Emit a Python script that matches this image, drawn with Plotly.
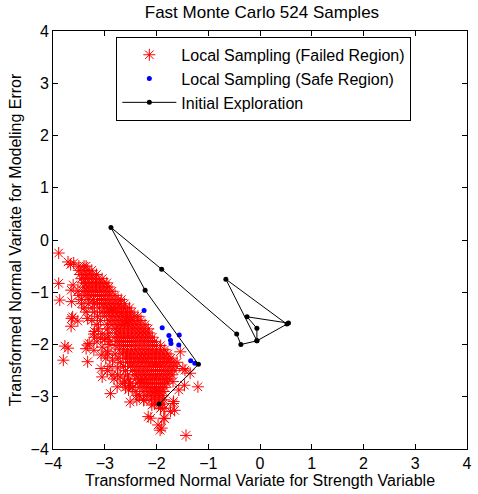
import plotly.graph_objects as go

# ---- Data ----
# Local sampling, failed region (red asterisks): sparse / outer samples
failed_sparse = [
    (-3.89, -0.25), (-3.71, -0.42), (-3.60, -0.44), (-3.66, -0.47), (-3.89, -0.83),
    (-3.61, -0.86), (-3.65, -0.96), (-3.87, -1.15), (-3.64, -1.18), (-3.62, -1.47),
    (-3.64, -1.50), (-3.52, -1.55), (-3.33, -1.50), (-3.15, -1.62), (-3.65, -1.65),
    (-3.20, -1.75), (-3.21, -1.80), (-3.05, -1.80), (-3.20, -1.86), (-3.08, -1.88),
    (-3.30, -1.98), (-3.15, -1.95), (-3.00, -1.90), (-2.92, -2.00), (-3.05, -2.05),
    (-3.33, -2.01), (-3.71, -2.07), (-2.94, -2.14), (-3.21, -2.11), (-3.36, -2.08),
    (-3.77, -2.03), (-3.07, -2.20), (-1.54, -2.14), (-3.80, -2.30), (-3.33, -2.33),
    (-2.85, -2.30), (-2.75, -2.45), (-3.07, -2.46), (-1.49, -2.46), (-1.45, -2.49),
    (-1.35, -2.55), (-2.86, -2.58), (-3.05, -2.62), (-2.70, -2.62), (-2.62, -2.70),
    (-1.68, -2.71), (-2.76, -2.81), (-2.52, -2.78), (-1.46, -2.78), (-1.20, -2.81),
    (-2.89, -2.94), (-2.54, -2.87), (-1.57, -2.87), (-2.38, -2.97), (-2.25, -3.07),
    (-2.51, -3.10), (-1.67, -3.09), (-1.68, -3.13), (-2.09, -3.16), (-1.73, -3.28),
    (-1.65, -3.26), (-1.92, -3.22), (-2.16, -3.38), (-2.11, -3.41), (-1.86, -3.41),
    (-1.84, -3.42), (-1.97, -3.54), (-1.93, -3.64), (-1.90, -3.60), (-1.43, -3.74),
    # widening of the wedge on its lower-left side
    (-3.52, -0.98), (-3.50, -1.06), (-3.45, -1.14), (-3.45, -1.22), (-3.32, -1.22),
    (-3.40, -1.30), (-3.24, -1.30), (-3.36, -1.38), (-3.20, -1.38), (-3.14, -1.46),
    (-3.25, -1.54), (-3.08, -1.54), (-2.95, -1.62), (-3.12, -1.70), (-2.95, -1.70),
    (-2.92, -1.78), (-2.94, -1.86), (-2.90, -1.94), (-2.80, -2.18), (-2.95, -2.18),
    (-2.74, -2.26), (-2.98, -2.26), (-2.70, -2.34), (-2.64, -2.42), (-2.90, -2.42),
    (-2.60, -2.50), (-2.95, -2.50), (-2.56, -2.58), (-2.75, -2.58), (-2.54, -2.66),
    (-2.82, -2.66), (-2.50, -2.74), (-2.65, -2.74), (-2.46, -2.82), (-2.60, -2.82),
    (-2.40, -2.90), (-2.33, -2.98), (-2.24, -3.06), (-2.38, -3.06),
]
# dense band: one row per y level, x positions of the stars in that row
failed_rows = [
    (-0.50, [-3.50, -3.40, -3.36]),
    (-0.58, [-3.50, -3.42, -3.34, -3.25]),
    (-0.66, [-3.48, -3.40, -3.32, -3.24, -3.16]),
    (-0.74, [-3.45, -3.37, -3.29, -3.21, -3.13, -3.05]),
    (-0.82, [-3.42, -3.34, -3.26, -3.18, -3.10, -3.02, -2.96]),
    (-0.90, [-3.40, -3.32, -3.24, -3.16, -3.08, -3.00, -2.92]),
    (-0.98, [-3.42, -3.34, -3.26, -3.18, -3.10, -3.02, -2.94, -2.86]),
    (-1.06, [-3.38, -3.30, -3.22, -3.14, -3.06, -2.98, -2.90, -2.80]),
    (-1.14, [-3.32, -3.22, -3.14, -3.06, -2.98, -2.90, -2.82, -2.74, -2.68]),
    (-1.22, [-3.20, -3.10, -3.02, -2.94, -2.86, -2.78, -2.70, -2.62]),
    (-1.30, [-3.10, -3.00, -2.92, -2.84, -2.76, -2.68, -2.60, -2.52]),
    (-1.38, [-3.05, -2.96, -2.88, -2.80, -2.72, -2.64, -2.56, -2.48]),
    (-1.46, [-3.00, -2.90, -2.82, -2.74, -2.66, -2.58, -2.50, -2.42, -2.36]),
    (-1.54, [-2.92, -2.84, -2.76, -2.68, -2.60, -2.52, -2.44, -2.36, -2.30]),
    (-1.62, [-2.86, -2.78, -2.70, -2.62, -2.54, -2.46, -2.38, -2.30, -2.22]),
    (-1.70, [-2.80, -2.72, -2.64, -2.56, -2.48, -2.40, -2.32, -2.24, -2.16]),
    (-1.78, [-2.78, -2.70, -2.62, -2.54, -2.46, -2.38, -2.30, -2.22, -2.14]),
    (-1.86, [-2.80, -2.72, -2.64, -2.56, -2.48, -2.40, -2.32, -2.24, -2.16, -2.08]),
    (-1.94, [-2.76, -2.68, -2.60, -2.52, -2.44, -2.36, -2.28, -2.20, -2.12, -2.04]),
    (-2.02, [-2.80, -2.72, -2.64, -2.56, -2.48, -2.40, -2.32, -2.24, -2.16, -2.08, -2.00, -1.92]),
    (-2.10, [-2.72, -2.64, -2.56, -2.48, -2.40, -2.32, -2.24, -2.16, -2.08, -2.00, -1.92, -1.84]),
    (-2.18, [-2.66, -2.58, -2.50, -2.42, -2.34, -2.26, -2.18, -2.10, -2.02, -1.94, -1.86, -1.78]),
    (-2.26, [-2.60, -2.52, -2.44, -2.36, -2.28, -2.20, -2.12, -2.04, -1.96, -1.88, -1.80, -1.72]),
    (-2.34, [-2.56, -2.48, -2.40, -2.32, -2.24, -2.16, -2.08, -2.00, -1.92, -1.84, -1.76, -1.68, -1.60]),
    (-2.42, [-2.50, -2.42, -2.34, -2.26, -2.18, -2.10, -2.02, -1.94, -1.86, -1.78, -1.70, -1.62]),
    (-2.50, [-2.46, -2.38, -2.30, -2.22, -2.14, -2.06, -1.98, -1.90, -1.82, -1.74, -1.66]),
    (-2.58, [-2.42, -2.34, -2.26, -2.18, -2.10, -2.02, -1.94, -1.86, -1.78, -1.70]),
    (-2.66, [-2.40, -2.32, -2.24, -2.16, -2.08, -2.00, -1.92, -1.84, -1.76]),
    (-2.74, [-2.36, -2.28, -2.20, -2.12, -2.04, -1.96, -1.88, -1.80]),
    (-2.82, [-2.32, -2.24, -2.16, -2.08, -2.00, -1.92, -1.84]),
    (-2.90, [-2.26, -2.18, -2.10, -2.02, -1.94, -1.86]),
    (-2.98, [-2.20, -2.12, -2.04, -1.96, -1.88]),
    (-3.06, [-2.10, -2.02, -1.94, -1.86]),
    (-3.14, [-2.04, -1.96, -1.88]),
    (-3.22, [-1.92, -1.84]),
]
failed_x = [p[0] for p in failed_sparse] + [x for y, xs in failed_rows for x in xs]
failed_y = [p[1] for p in failed_sparse] + [y for y, xs in failed_rows for x in xs]

# Local sampling, safe region (blue dots)
safe_x = [-2.24, -1.89, -1.76, -1.73, -1.72, -1.56, -1.57, -1.34, -1.26]
safe_y = [-1.35, -1.68, -1.83, -1.92, -1.98, -1.82, -2.01, -2.31, -2.36]

# Initial exploration path (black line with dots)
explore_x = [-1.95, -1.19, -2.22, -2.88, -1.90, -0.45, -0.37, -0.06, 0.52, -0.66, -0.06, -0.06, -0.25, 0.55]
explore_y = [-3.14, -2.38, -0.96, 0.24, -0.56, -1.80, -2.00, -1.93, -1.61, -0.75, -1.93, -1.69, -1.47, -1.59]

title_text = "Fast Monte Carlo 524 Samples"
x_title = "Transformed Normal Variate for Strength Variable"
y_title = "Transformed Normal Variate for Modeling Error"
tick_vals = [-4, -3, -2, -1, 0, 1, 2, 3, 4]

FONT = "Arial, Liberation Sans, sans-serif"
FS = 16

fig = go.Figure()
fig.add_trace(go.Scatter(
    x=failed_x, y=failed_y, mode="markers",
    name="Local Sampling (Failed Region)",
    marker=dict(symbol="asterisk-open", size=10, color="red",
                line=dict(color="red", width=1)),
))
fig.add_trace(go.Scatter(
    x=safe_x, y=safe_y, mode="markers",
    name="Local Sampling (Safe Region)",
    marker=dict(symbol="circle", size=5, color="blue"),
))
fig.add_trace(go.Scatter(
    x=explore_x, y=explore_y, mode="lines+markers",
    name="Initial Exploration",
    line=dict(color="black", width=1),
    marker=dict(symbol="circle", size=5, color="black"),
))

axis_common = dict(
    range=[-4, 4], tickvals=tick_vals, ticks="inside", ticklen=5,
    tickcolor="black", showline=True, linecolor="black", linewidth=1,
    mirror="ticks", showgrid=False, zeroline=False,
    tickfont=dict(family=FONT, size=FS, color="black"),
)

fig.update_layout(
    width=478, height=494,
    margin=dict(l=53, r=6, t=31, b=45),
    paper_bgcolor="white", plot_bgcolor="white",
    font=dict(family=FONT, size=FS, color="black"),
    title=dict(text=title_text, x=0.548, xanchor="center", y=0.975, yanchor="middle",
               font=dict(family=FONT, size=17, color="black")),
    xaxis=dict(axis_common, title=dict(text=x_title, standoff=2,
                                       font=dict(family=FONT, size=FS, color="black"))),
    yaxis=dict(axis_common, title=dict(text=y_title, standoff=4,
                                       font=dict(family=FONT, size=FS, color="black"))),
    legend=dict(x=0.153, y=0.986, xanchor="left", yanchor="top",
                bgcolor="white", bordercolor="black", borderwidth=1,
                itemwidth=54, tracegroupgap=0,
                font=dict(family=FONT, size=FS, color="black")),
    showlegend=True,
)

fig.write_html("out.html")
